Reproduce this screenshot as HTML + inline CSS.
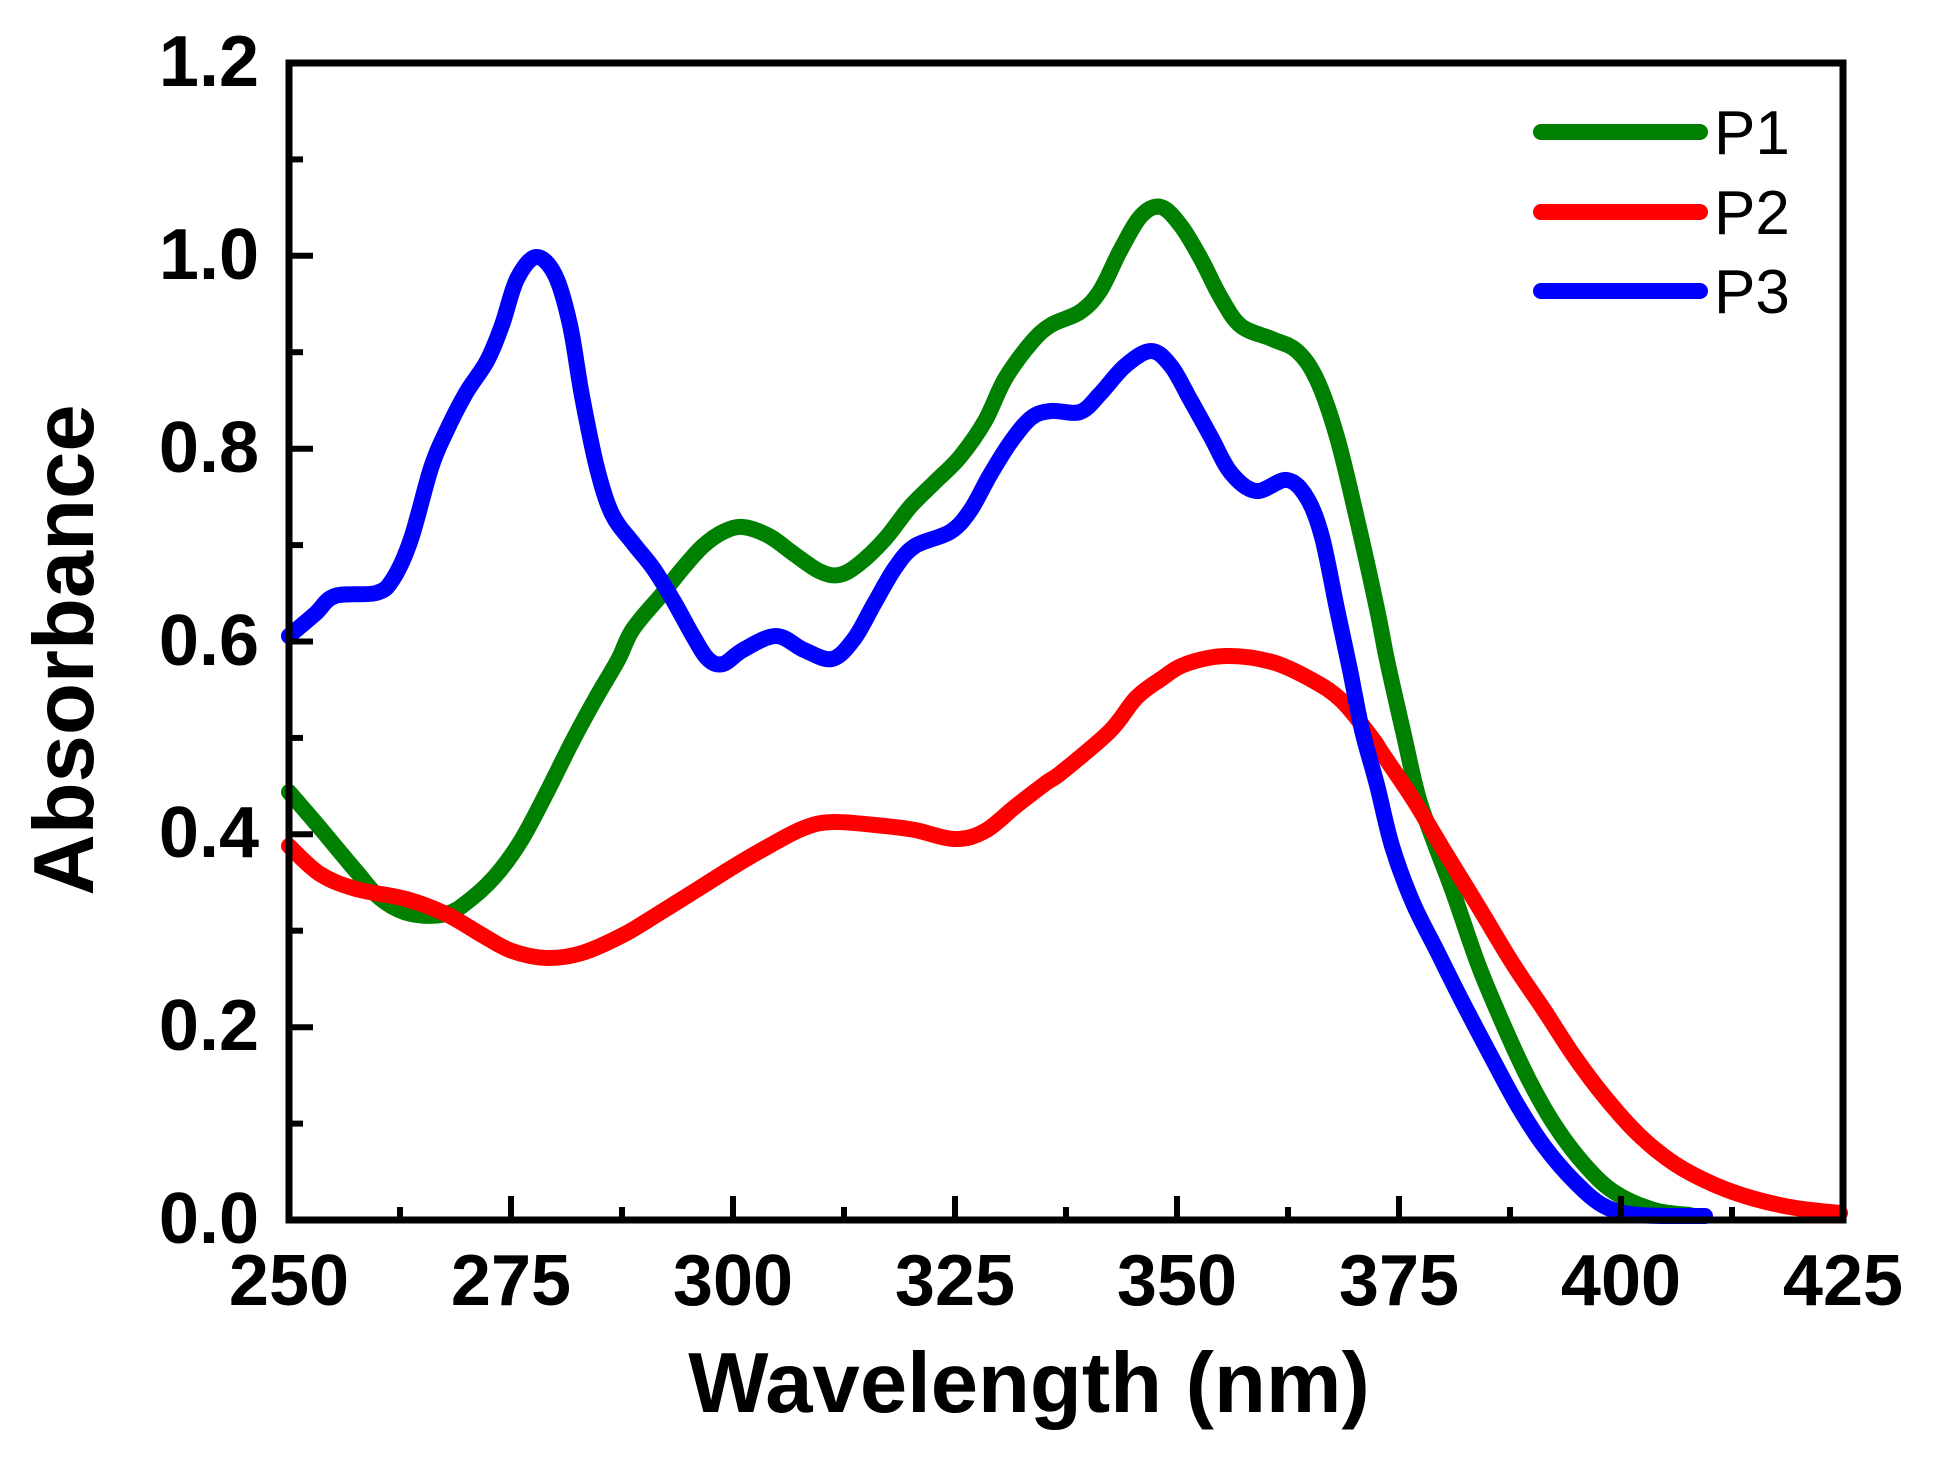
<!DOCTYPE html>
<html>
<head>
<meta charset="utf-8">
<style>
html,body{margin:0;padding:0;background:#fff;}
svg{display:block;}
text{font-family:"Liberation Sans",Arial,sans-serif;fill:#000;}
</style>
</head>
<body>
<svg id="chart" width="1956" height="1470" viewBox="0 0 1956 1470" xmlns="http://www.w3.org/2000/svg">
<rect x="0" y="0" width="1956" height="1470" fill="#ffffff"/>

<!-- series -->
<g id="series" fill="none" stroke-width="16" stroke-linejoin="round" stroke-linecap="round">
<polyline stroke="#008000" points="289,792 320,828 356,871 381,899 411,914 446,914 471,899 497,874 522,839 547,792 572,742 597,696 618,660 633,629 663,593 683,568 703,546 723,532 743,527 769,536 794,554 819,571 839,575 859,564 885,539 910,507 935,482 960,457 985,421 1005,379 1031,343 1051,325 1080,312 1100,291 1120,251 1141,216 1161,207 1181,226 1201,259 1221,298 1241,326 1272,339 1297,351 1317,380 1337,437 1357,519 1377,609 1387,660 1403,731 1418,796 1433,839 1453,892 1478,964 1503,1024 1528,1078 1554,1124 1584,1164 1614,1192 1654,1210 1690,1215"/>
<polyline stroke="#ff0000" points="289,846 320,874 356,889 406,899 446,914 482,935 512,951 547,958 582,953 623,935 658,914 698,889 733,867 769,846 804,828 834,822 885,826 915,830 955,839 985,831 1016,806 1046,783 1062,772 1110,731 1136,698 1161,679 1186,664 1226,656 1272,662 1312,680 1342,701 1372,738 1382,753 1413,799 1443,849 1478,906 1513,964 1544,1010 1574,1056 1604,1096 1639,1135 1675,1164 1715,1185 1755,1199 1796,1208 1840,1213"/>
<polyline stroke="#0000ff" points="289,636 315,614 335,596 376,593 393,579 411,539 431,468 446,432 466,393 487,361 502,325 517,279 536,257 555,275 570,325 582,396 597,468 612,514 633,543 653,568 673,600 693,636 708,659 723,664 743,650 776,636 804,650 832,659 854,639 874,604 895,568 915,546 950,532 970,511 990,475 1010,443 1031,418 1051,411 1080,412 1100,394 1125,366 1151,351 1171,366 1191,401 1211,437 1231,473 1256,491 1287,480 1307,498 1322,537 1337,609 1350,670 1362,730 1377,785 1392,846 1413,903 1438,953 1463,1003 1493,1060 1518,1106 1544,1146 1574,1181 1604,1206 1639,1215 1705,1216"/>
</g>

<!-- axes frame -->
<rect x="289" y="63" width="1554" height="1157" fill="none" stroke="#000" stroke-width="7"/>

<!-- y ticks -->
<g stroke="#000" stroke-width="6">
<line x1="289" y1="1220" x2="313" y2="1220"/>
<line x1="289" y1="1123.6" x2="303" y2="1123.6"/>
<line x1="289" y1="1027.2" x2="313" y2="1027.2"/>
<line x1="289" y1="930.7" x2="303" y2="930.7"/>
<line x1="289" y1="834.3" x2="313" y2="834.3"/>
<line x1="289" y1="737.9" x2="303" y2="737.9"/>
<line x1="289" y1="641.5" x2="313" y2="641.5"/>
<line x1="289" y1="545.1" x2="303" y2="545.1"/>
<line x1="289" y1="448.7" x2="313" y2="448.7"/>
<line x1="289" y1="352.2" x2="303" y2="352.2"/>
<line x1="289" y1="255.8" x2="313" y2="255.8"/>
<line x1="289" y1="159.4" x2="303" y2="159.4"/>
<!-- x ticks -->
<line x1="400" y1="1220" x2="400" y2="1207"/>
<line x1="511" y1="1220" x2="511" y2="1196"/>
<line x1="622" y1="1220" x2="622" y2="1207"/>
<line x1="733" y1="1220" x2="733" y2="1196"/>
<line x1="844" y1="1220" x2="844" y2="1207"/>
<line x1="955" y1="1220" x2="955" y2="1196"/>
<line x1="1066" y1="1220" x2="1066" y2="1207"/>
<line x1="1177" y1="1220" x2="1177" y2="1196"/>
<line x1="1288" y1="1220" x2="1288" y2="1207"/>
<line x1="1399" y1="1220" x2="1399" y2="1196"/>
<line x1="1510" y1="1220" x2="1510" y2="1207"/>
<line x1="1621" y1="1220" x2="1621" y2="1196"/>
<line x1="1732" y1="1220" x2="1732" y2="1207"/>
</g>

<!-- y tick labels -->
<g font-size="72" font-weight="bold" text-anchor="end">
<text x="259" y="1243">0.0</text>
<text x="259" y="1050">0.2</text>
<text x="259" y="857">0.4</text>
<text x="259" y="665">0.6</text>
<text x="259" y="472">0.8</text>
<text x="259" y="279">1.0</text>
<text x="259" y="86">1.2</text>
</g>

<!-- x tick labels -->
<g font-size="72" font-weight="bold" text-anchor="middle">
<text x="289" y="1305">250</text>
<text x="511" y="1305">275</text>
<text x="733" y="1305">300</text>
<text x="955" y="1305">325</text>
<text x="1177" y="1305">350</text>
<text x="1399" y="1305">375</text>
<text x="1621" y="1305">400</text>
<text x="1843" y="1305">425</text>
</g>

<!-- axis titles -->
<text x="1029" y="1412" font-size="85" font-weight="bold" text-anchor="middle">Wavelength (nm)</text>
<text x="0" y="0" font-size="85" font-weight="bold" text-anchor="middle" transform="translate(93,650) rotate(-90)">Absorbance</text>

<!-- legend -->
<g stroke-width="16" stroke-linecap="round">
<line x1="1541" y1="132" x2="1700" y2="132" stroke="#008000"/>
<line x1="1541" y1="212" x2="1700" y2="212" stroke="#ff0000"/>
<line x1="1541" y1="291" x2="1700" y2="291" stroke="#0000ff"/>
</g>
<g font-size="62">
<text x="1714" y="154">P1</text>
<text x="1714" y="234">P2</text>
<text x="1714" y="313">P3</text>
</g>
</svg>
<script>
(function(){
  var NS="http://www.w3.org/2000/svg";
  var g=document.getElementById("series");
  var pls=g.querySelectorAll("polyline");
  for(var k=0;k<pls.length;k++){
    var pl=pls[k];
    var raw=pl.getAttribute("points").trim().split(/\s+/);
    var p=[];
    for(var i=0;i<raw.length;i++){var c=raw[i].split(",");p.push([+c[0],+c[1]]);}
    var d="M"+p[0][0]+","+p[0][1];
    for(var i=0;i<p.length-1;i++){
      var p0=p[i>0?i-1:0],p1=p[i],p2=p[i+1],p3=p[i+2<p.length?i+2:p.length-1];
      var c1x=p1[0]+(p2[0]-p0[0])/6,c1y=p1[1]+(p2[1]-p0[1])/6;
      var c2x=p2[0]-(p3[0]-p1[0])/6,c2y=p2[1]-(p3[1]-p1[1])/6;
      d+=" C"+c1x.toFixed(1)+","+c1y.toFixed(1)+" "+c2x.toFixed(1)+","+c2y.toFixed(1)+" "+p2[0]+","+p2[1];
    }
    var path=document.createElementNS(NS,"path");
    path.setAttribute("d",d);
    path.setAttribute("stroke",pl.getAttribute("stroke"));
    g.replaceChild(path,pl);
  }
})();
</script>
</body>
</html>
